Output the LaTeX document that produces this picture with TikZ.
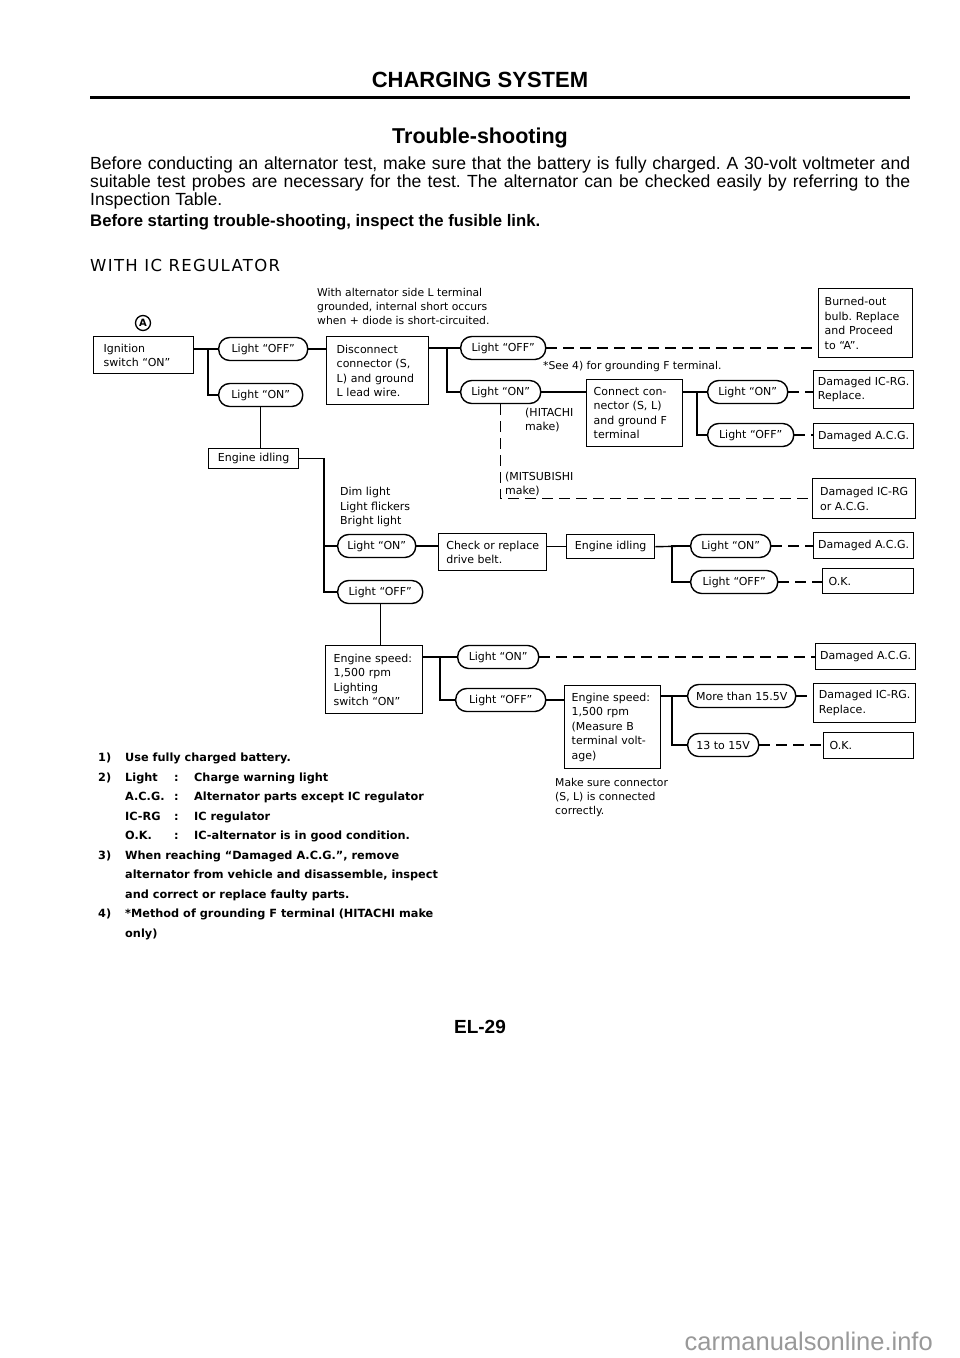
\documentclass[tikz,border=0pt]{standalone}
\usepackage{fontspec}
\setmainfont{Liberation Sans}
\newfontfamily\diagfont[Ligatures=TeX]{DejaVu Sans}
\usetikzlibrary{positioning}

\newcommand\dgtext{\diagfont\fontsize{11}{14.5}\selectfont}
\newcommand\dgsmall{\diagfont\fontsize{10.8}{14}\selectfont}
\newcommand\notetag[1]{\makebox[27pt][l]{#1}}
\newcommand\noteterm[1]{\makebox[49pt][l]{#1}\makebox[20pt][l]{:}}

\begin{document}
\frenchspacing
\begin{tikzpicture}[x=1pt, y=-1pt,
    box/.style={draw, line width=1.4pt, anchor=north west, align=left,
      inner xsep=10pt, inner ysep=0pt, font=\dgtext},
    pill/.style={draw, line width=1.4pt, rounded corners=11pt, anchor=west,
      minimum height=23pt, inner sep=0pt, font=\dgtext},
    remark/.style={anchor=west, align=left, inner sep=0pt, font=\dgsmall},
    link/.style={line width=1.4pt},
    dlink/.style={line width=1.1pt, dash pattern=on 11pt off 6pt}
  ]
  \fill[white] (0,0) rectangle (960,1358);
  \useasboundingbox (0,0) rectangle (960,1358);

  % page head
  \node[font=\bfseries\fontsize{22}{24}\selectfont] (title) at (480,80) {CHARGING SYSTEM};
  \draw[line width=3pt] (90,97) -- (910,97);
  \node[font=\bfseries\fontsize{21.5}{24}\selectfont] (subtitle) at (480,138) {Trouble-shooting};
  \node[anchor=north west, text width=820pt, align=justify, inner sep=0pt,
    font=\fontsize{17.6}{18}\selectfont] (intro) at (90,157)
    {Before conducting an alternator test, make sure that the battery is fully charged. A 30-volt voltmeter and\linebreak
     suitable test probes are necessary for the test. The alternator can be checked easily by referring to the\linebreak
     Inspection Table.};
  \node[anchor=west, inner sep=0pt, font=\bfseries\fontsize{16.7}{18}\selectfont] (fuse) at (90,222)
    {Before starting trouble-shooting, inspect the fusible link.};
  \node[anchor=west, inner sep=0pt, font=\diagfont\addfontfeatures{LetterSpace=8}\fontsize{16.5}{18}\selectfont] (withIC) at (90,265)
    {WITH IC REGULATOR};

  % first check
  \node[draw, circle, line width=1.3pt, inner sep=0pt, minimum size=15pt,
    font=\diagfont\bfseries\fontsize{10}{10}\selectfont] (markA) at (143,323) {A};
  \node[remark] (altNote) at (317,306)
    {With alternator side L terminal\\grounded, internal short occurs\\when + diode is short-circuited.};
  \node[box, text width=80pt, minimum height=37pt] (ign) at (93,336) {Ignition\\switch ``ON''};
  \node[pill, minimum width=89pt] (offA) at (218,349) {Light ``OFF''};
  \node[pill, minimum width=84pt] (onA) at (218,395) {Light ``ON''};
  \node[box, text width=82pt, minimum height=68pt] (disc) at (326,336)
    {Disconnect\\connector (S,\\L) and ground\\L lead wire.};
  \node[box, align=center, inner xsep=0pt, text width=90pt, minimum height=20pt] (idleA) at (208,448) {Engine idling};

  % second column
  \node[pill, minimum width=85pt] (offB) at (460,348) {Light ``OFF''};
  \node[pill, minimum width=80pt] (onB) at (460,392) {Light ``ON''};
  \node[box, inner xsep=6pt, text width=82pt, minimum height=69pt] (burn) at (818,288)
    {Burned-out\\bulb. Replace\\and Proceed\\to ``A''.};
  \node[remark] (seeNote) at (543,367) {*See 4) for grounding F terminal.};
  \node[box, inner xsep=7pt, text width=82pt, minimum height=67pt] (conn) at (586,379)
    {Connect con-\\nector (S, L)\\and ground F\\terminal};
  \node[remark, font=\dgtext] (hitachi) at (525,420) {(HITACHI\\make)};
  \node[pill, minimum width=80pt] (onC) at (707,392) {Light ``ON''};
  \node[pill, minimum width=86pt] (offC) at (707,435) {Light ``OFF''};
  \node[box, inner xsep=0pt, minimum width=100pt, minimum height=38pt] (dmgRG1) at (813,370)
    {Damaged IC-RG.\\Replace.};
  \node[box, inner xsep=0pt, minimum width=100pt, minimum height=25pt] (dmgACG1) at (813,423)
    {Damaged A.C.G.};
  \node[remark, font=\dgtext] (mitsu) at (505,484) {(MITSUBISHI\\make)};
  \node[box, inner xsep=0pt, minimum width=103pt, minimum height=40pt] (dmgEither) at (812,478)
    {Damaged IC-RG\\or A.C.G.};

  % engine idling
  \node[remark, font=\dgtext] (dimNote) at (340,507) {Dim light\\Light flickers\\Bright light};
  \node[pill, minimum width=78pt] (onD) at (337,546) {Light ``ON''};
  \node[pill, minimum width=85pt] (offD) at (337,592) {Light ``OFF''};
  \node[box, inner xsep=0pt, minimum width=108pt, minimum height=37pt] (belt) at (438,533)
    {Check or replace\\drive belt.};
  \node[box, align=center, inner xsep=0pt, text width=88pt, minimum height=24pt] (idleB) at (566,534) {Engine idling};
  \node[pill, minimum width=80pt] (onE) at (690,546) {Light ``ON''};
  \node[pill, minimum width=87pt] (offE) at (690,582) {Light ``OFF''};
  \node[box, inner xsep=0pt, minimum width=100pt, minimum height=26pt] (dmgACG2) at (813,532)
    {Damaged A.C.G.};
  \node[box, inner xsep=6pt, text width=79pt, minimum height=25pt] (ok1) at (822,568) {O.K.};

  % engine speed
  \node[box, inner xsep=8pt, text width=81pt, minimum height=68pt] (speedA) at (325,645)
    {Engine speed:\\1,500 rpm\\Lighting\\switch ``ON''};
  \node[pill, minimum width=81pt] (onF) at (457,657) {Light ``ON''};
  \node[pill, minimum width=90pt] (offF) at (455,700) {Light ``OFF''};
  \node[box, inner xsep=0pt, minimum width=100pt, minimum height=26pt] (dmgACG3) at (815,643)
    {Damaged A.C.G.};
  \node[box, inner xsep=7pt, text width=82pt, minimum height=83pt] (speedB) at (564,685)
    {Engine speed:\\1,500 rpm\\(Measure B\\terminal volt-\\age)};
  \node[remark] (sureNote) at (555,798) {Make sure connector\\(S, L) is connected\\correctly.};
  \node[pill, minimum width=108pt] (moreV) at (687,696) {More than 15.5V};
  \node[pill, minimum width=71pt] (rangeV) at (687,745) {13 to 15V};
  \node[box, inner xsep=0pt, minimum width=102pt, minimum height=39pt] (dmgRG2) at (813,683)
    {Damaged IC-RG.\\Replace.};
  \node[box, inner xsep=6pt, text width=78pt, minimum height=26pt] (ok2) at (823,732) {O.K.};

  % connectors
  \draw[link] (ign.east |- offA.west) -- (offA.west);
  \draw[link] (offA.west) ++(-10,0) |- (onA.west);
  \draw[link] (offA.east) -- (offA.east -| disc.west);
  \draw[link] (onA.south) -- (onA.south |- idleA.north);
  \draw[link] (disc.east |- offB.west) -- (offB.west);
  \draw[link] (offB.west) ++(-13,0) |- (onB.west);
  \draw[dlink] (offB.east) -- (offB.east -| burn.west);
  \draw[link] (onB.east) -- (onB.east -| conn.west);
  \draw[link] (conn.east |- onC.west) -- (onC.west);
  \draw[link] (onC.west) ++(-10,0) |- (offC.west);
  \draw[dlink] (onC.east) -- (onC.east -| dmgRG1.west);
  \draw[dlink] (offC.east) -- (offC.east -| dmgACG1.west);
  \draw[dlink] (onB.south) |- (dmgEither.west);

  \draw[link] (offD.west) -- ++(-13,0) |- (idleA.east);
  \draw[link] (onD.west) -- ++(-13,0);
  \draw[link] (onD.east) -- (onD.east -| belt.west);
  \draw[link] (belt.east |- idleB.west) -- (idleB.west);
  \draw[link] (idleB.east) -- (onE.west);
  \draw[link] (offE.west) -- ++(-18,0) |- (onE.west);
  \draw[dlink] (onE.east) -- (onE.east -| dmgACG2.west);
  \draw[dlink] (offE.east) -- (offE.east -| ok1.west);

  \draw[link] (offD.south) -- (offD.south |- speedA.north);
  \draw[link] (speedA.east |- onF.west) -- (onF.west);
  \draw[link] (offF.west) -- ++(-15,0) |- (onF.west);
  \draw[dlink] (onF.east) -- (onF.east -| dmgACG3.west);
  \draw[link] (offF.east) -- (offF.east -| speedB.west);
  \draw[link] (speedB.east |- moreV.west) -- (moreV.west);
  \draw[link] (rangeV.west) -- ++(-15,0) |- (moreV.west);
  \draw[dlink] (moreV.east) -- (moreV.east -| dmgRG2.west);
  \draw[dlink] (rangeV.east) -- (rangeV.east -| ok2.west);

  % notes
  \node[anchor=north west, align=left, inner sep=0pt,
    font=\diagfont\bfseries\fontsize{11.3}{19.5}\selectfont] (notes) at (98,753)
    {\notetag{1)}Use fully charged battery.\\
     \notetag{2)}\noteterm{Light}Charge warning light\\
     \notetag{}\noteterm{A.C.G.}Alternator parts except IC regulator\\
     \notetag{}\noteterm{IC-RG}IC regulator\\
     \notetag{}\noteterm{O.K.}IC-alternator is in good condition.\\
     \notetag{3)}When reaching ``Damaged A.C.G.'', remove\\
     \notetag{}alternator from vehicle and disassemble, inspect\\
     \notetag{}and correct or replace faulty parts.\\
     \notetag{4)}*Method of grounding F terminal (HITACHI make\\
     \notetag{}only)};

  % page foot
  \node[font=\bfseries\fontsize{19}{22}\selectfont] (pageNo) at (480,1027) {EL-29};
  \node[anchor=east, inner sep=0pt, text=black!40, font=\fontsize{25.5}{28}\selectfont] (site) at (933,1341)
    {carmanualsonline.info};
\end{tikzpicture}
\end{document}
